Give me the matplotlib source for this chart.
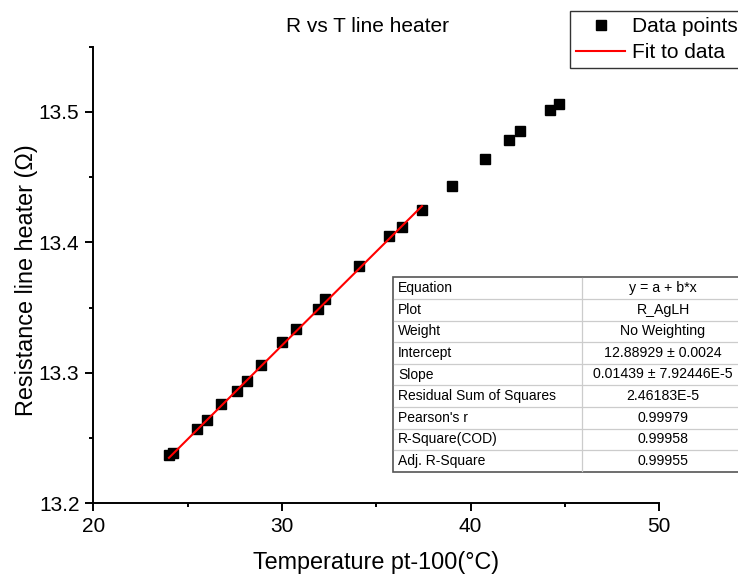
import matplotlib
matplotlib.use("Agg")
import matplotlib.pyplot as plt
from matplotlib.lines import Line2D
from matplotlib.patches import Rectangle
import numpy as np

plt.rcParams['font.family'] = ['Liberation Sans', 'DejaVu Sans']

# ---- data ----
temperature = [24.01, 24.24, 25.51, 26.01, 26.78, 27.60, 28.13, 28.87, 30.00, 30.73,
               31.89, 32.28, 34.10, 35.69, 36.35, 37.42, 39.00, 40.76, 42.02, 42.62,
               44.21, 44.70]
resistance = [13.2369, 13.2387, 13.2568, 13.2640, 13.2760, 13.2857, 13.2936, 13.3056,
              13.3234, 13.3334, 13.3492, 13.3564, 13.3822, 13.4046, 13.4117, 13.4250,
              13.4431, 13.4641, 13.4781, 13.4850, 13.5011, 13.5059]
fit_intercept = 12.88929
fit_slope = 0.01439
fit_range = [24.01, 37.42]

table_labels = ["Equation", "Plot", "Weight", "Intercept", "Slope",
                "Residual Sum of Squares", "Pearson's r", "R-Square(COD)",
                "Adj. R-Square"]
table_values = ["y = a + b*x", "R_AgLH", "No Weighting", "12.88929 \u00b1 0.0024",
                "0.01439 \u00b1 7.92446E-5", "2.46183E-5", "0.99979", "0.99958",
                "0.99955"]

x_ticks = [20, 30, 40, 50]
y_ticks = [13.2, 13.3, 13.4, 13.5]

W, H = 738, 577
fig = plt.figure(figsize=(W / 100, H / 100), dpi=100)

# main axes (pixel geometry)
L, R_, T_, B = 93.3, 659.3, 46.7, 503.2
ax = fig.add_axes([L / W, (H - B) / H, (R_ - L) / W, (B - T_) / H])

ax.plot(temperature, resistance, linestyle='none', marker='s', markersize=7,
        color='black', label='Data points', zorder=3)
xf = np.array(fit_range)
ax.plot(xf, fit_intercept + fit_slope * xf, color='red', linewidth=1.5,
        label='Fit to data', zorder=4)

ax.set_xlim(20, 50)
ax.set_ylim(13.2, 13.55)
ax.set_xticks(x_ticks)
ax.set_yticks(y_ticks)
ax.set_xticks([25, 35, 45], minor=True)
ax.set_yticks([13.25, 13.35, 13.45, 13.55], minor=True)
ax.set_xticklabels([str(v) for v in x_ticks])
ax.set_yticklabels([f"{v:.1f}" for v in y_ticks])
for s in ['top', 'right']:
    ax.spines[s].set_visible(False)
for s in ['left', 'bottom']:
    ax.spines[s].set_linewidth(1.4)
ax.tick_params(which='major', direction='out', length=6, width=1.4, labelsize=15, pad=4)
ax.tick_params(which='minor', direction='out', length=3, width=1.4)

# overlay in pixel coordinates for texts and table
ov = fig.add_axes([0, 0, 1, 1], zorder=5)
ov.set_xlim(0, W)
ov.set_ylim(H, 0)
ov.axis('off')
ov.patch.set_alpha(0)

ov.text(368, 26, "R vs T line heater", fontsize=15, ha='center', va='center')
ov.text(376, 562, "Temperature pt-100(\u00b0C)", fontsize=16.8, ha='center', va='center')
ov.text(27, 280, "Resistance line heater (\u03a9)", fontsize=16.8, ha='center',
        va='center', rotation=90)

# table
tl, tt, tb, tdiv, tr = 393, 277.3, 471.7, 582, 760
rh = (tb - tt) / len(table_labels)
ov.add_patch(Rectangle((tl, tt), tr - tl, tb - tt, facecolor='white',
                       edgecolor='#555555', linewidth=1.2, zorder=1))
for i in range(1, len(table_labels)):
    y = tt + i * rh
    ov.add_line(Line2D([tl + 1, tr], [y, y], color='#cccccc', linewidth=0.9, zorder=2))
ov.add_line(Line2D([tdiv, tdiv], [tt + 1, tb - 1], color='#cccccc', linewidth=0.9, zorder=2))
for i, (lab, val) in enumerate(zip(table_labels, table_values)):
    yc = tt + (i + 0.5) * rh
    ov.text(tl + 5, yc, lab, fontsize=10, ha='left', va='center', zorder=3)
    ov.text(663, yc, val, fontsize=10.2, ha='center', va='center', zorder=3)

# legend
h, l = ax.get_legend_handles_labels()
leg = fig.legend(h, l, loc='upper left', bbox_to_anchor=(570 / W, 1 - 10.7 / H),
                 fontsize=15, frameon=True, fancybox=False, framealpha=1,
                 edgecolor='#333333', handlelength=2.36, handletextpad=0.3,
                 borderpad=0.3, labelspacing=0.35, borderaxespad=0)
leg.get_frame().set_linewidth(1.0)
leg.set_zorder(10)

fig.savefig("out.png", dpi=100)
